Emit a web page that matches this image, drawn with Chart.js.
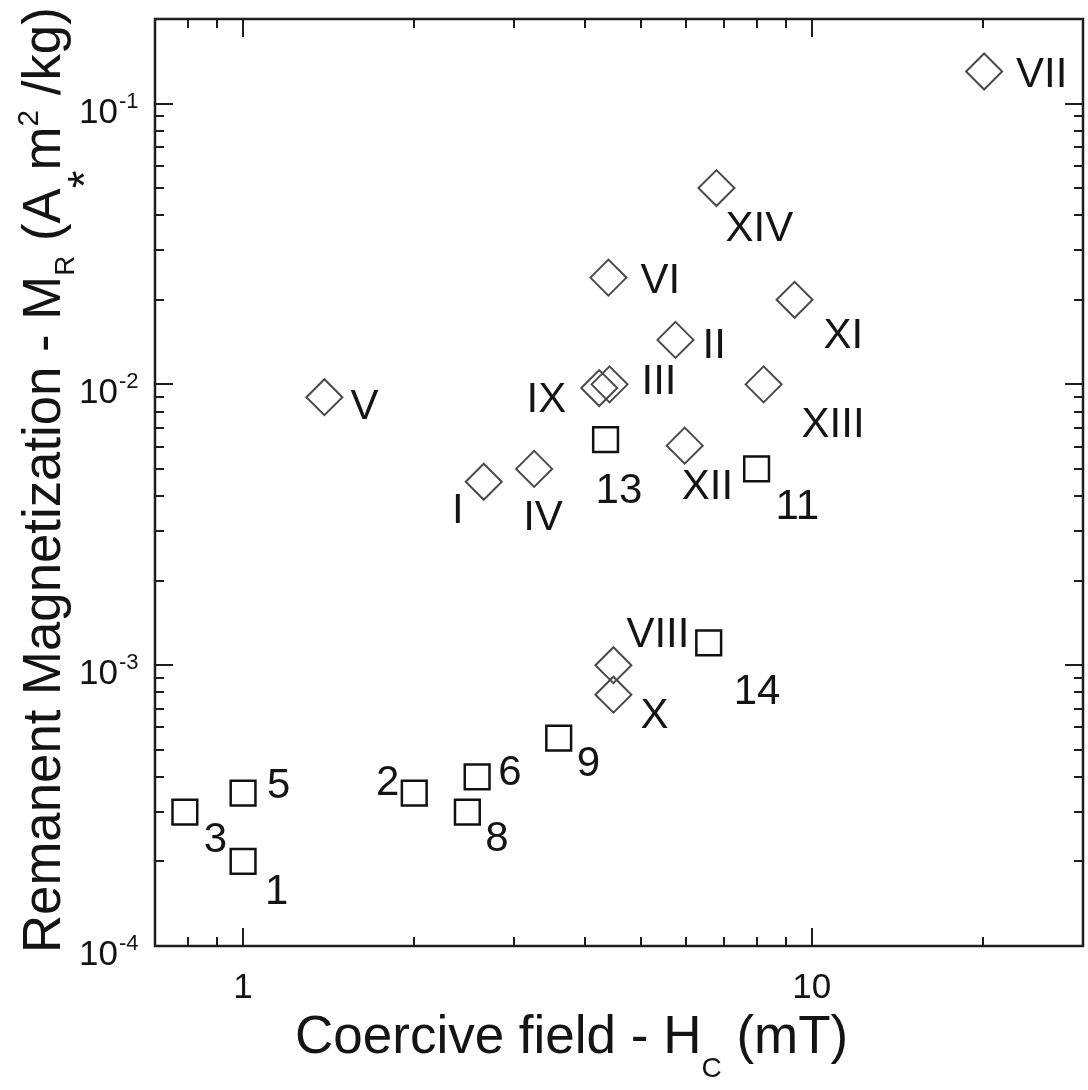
<!DOCTYPE html>
<html>
<head>
<meta charset="utf-8">
<script src="https://cdn.jsdelivr.net/npm/chart.js@4.4.0/dist/chart.umd.min.js"></script>
<style>
  html, body { margin: 0; padding: 0; background: #fff; }
</style>
</head>
<body>
<canvas id="myChart" width="1088" height="1090"></canvas>
<script>
// samples drawn as squares (arabic numbers)
const squareNames = ['1', '2', '3', '5', '6', '8', '9', '11', '13', '14'];
const squareHc = [1.0, 2.0, 0.79, 1.0, 2.58, 2.48, 3.59, 8.0, 4.34, 6.59];
const squareMr = [2.0e-4, 3.5e-4, 3.0e-4, 3.5e-4, 4.0e-4, 3.0e-4, 5.5e-4, 5.0e-3, 6.35e-3, 1.2e-3];

// samples drawn as diamonds (roman numbers)
const diamondNames = ['I', 'II', 'III', 'IV', 'V', 'VI', 'VII', 'VIII', 'IX', 'X', 'XI', 'XII', 'XIII', 'XIV'];
const diamondHc = [2.65, 5.76, 4.41, 3.25, 1.39, 4.39, 20.1, 4.48, 4.23, 4.48, 9.33, 5.98, 8.23, 6.80];
const diamondMr = [4.5e-3, 1.44e-2, 1.0e-2, 5.0e-3, 9.0e-3, 2.4e-2, 0.13, 1.0e-3, 9.7e-3, 7.85e-4, 2.0e-2, 6.05e-3, 1.0e-2, 5.0e-2];

// axis ticks
const xTickValues = [1, 10];
const xTickLabels = ['1', '10'];
const yTickValues = [1e-4, 1e-3, 1e-2, 1e-1];
const yTickExponents = ['-4', '-3', '-2', '-1'];

// where each name sits next to its marker: [dx, dy, align] in px
const squareLabelPos = [[22, 28, 'left'], [-15, -13, 'right'], [19, 25, 'left'], [24, -10, 'left'], [21, -7, 'left'],
    [18, 24, 'left'], [18, 23, 'left'], [19, 35, 'left'], [-10, 48, 'left'], [25, 46, 'left']];
const diamondLabelPos = [[-20, 26, 'right'], [27, 3, 'left'], [32, -5, 'left'], [-11, 46, 'left'], [26, 7, 'left'],
    [32, 0, 'left'], [32, 0, 'left'], [13, -33, 'left'], [-33, 9, 'right'], [27, 18, 'left'], [29, 33, 'left'],
    [-3, 38, 'left'], [38, 38, 'left'], [9, 38, 'left']];

const FONT = '"Liberation Sans", Arial, sans-serif';
const INK = '#141414';

function richWidth(ctx, parts) {
    let w = 0;
    parts.forEach(p => {
        ctx.font = p.size + 'px ' + FONT;
        w += ctx.measureText(p.t).width;
    });
    return w;
}

// draws text made of pieces with their own size and baseline shift,
// shrunk if needed so it is no longer than maxLen
function drawRich(ctx, parts, x, y, angle, maxLen) {
    ctx.save();
    const w = richWidth(ctx, parts);
    const k = maxLen && w > maxLen ? maxLen / w : 1;
    ctx.translate(x, y);
    ctx.rotate(angle);
    ctx.textAlign = 'left';
    ctx.textBaseline = 'alphabetic';
    let pos = 0;
    parts.forEach(p => {
        ctx.font = (p.size * k) + 'px ' + FONT;
        ctx.fillText(p.t, pos, p.dy * k);
        pos += ctx.measureText(p.t).width;
    });
    ctx.restore();
}

function logTicks(min, max) {
    const out = [];
    for (let e = Math.floor(Math.log10(min)); e <= Math.ceil(Math.log10(max)); e++) {
        for (let m = 1; m <= 9; m++) {
            const v = m * Math.pow(10, e);
            if (v >= min * 0.999 && v <= max * 1.001) out.push({ v: v, major: m === 1 });
        }
    }
    return out;
}

const frameAndLabels = {
    id: 'frameAndLabels',
    afterDraw: (chart) => {
        const { ctx, chartArea: { left, right, top, bottom }, scales: { x, y } } = chart;
        ctx.save();
        ctx.strokeStyle = '#1e1e1e';
        ctx.lineWidth = 2.5;
        ctx.strokeRect(left, top, right - left, bottom - top);

        ctx.lineWidth = 2;
        ctx.beginPath();
        logTicks(x.min, x.max).forEach(t => {
            const px = Math.round(x.getPixelForValue(t.v));
            const len = t.major ? 18 : 9;
            ctx.moveTo(px, bottom); ctx.lineTo(px, bottom - len);
            ctx.moveTo(px, top); ctx.lineTo(px, top + len);
        });
        logTicks(y.min, y.max).forEach(t => {
            const py = Math.round(y.getPixelForValue(t.v));
            const len = t.major ? 18 : 9;
            ctx.moveTo(left, py); ctx.lineTo(left + len, py);
            ctx.moveTo(right, py); ctx.lineTo(right - len, py);
        });
        ctx.stroke();

        // tick labels
        ctx.fillStyle = INK;
        ctx.font = '35px ' + FONT;
        ctx.textAlign = 'center';
        ctx.textBaseline = 'alphabetic';
        xTickValues.forEach((v, i) => {
            ctx.fillText(xTickLabels[i], x.getPixelForValue(v), bottom + 52);
        });
        yTickValues.forEach((v, i) => {
            const py = y.getPixelForValue(v);
            ctx.font = '35px ' + FONT;
            ctx.textAlign = 'right';
            ctx.fillText('10', 118, py + 19);
            ctx.font = '22px ' + FONT;
            ctx.textAlign = 'left';
            ctx.fillText(yTickExponents[i], 119, py + 4);
        });

        // axis titles
        drawRich(ctx, [
            { t: 'Coercive field - H', size: 53, dy: 0 },
            { t: 'C', size: 28, dy: 24 },
            { t: ' (mT)', size: 53, dy: 0 }
        ], 295, 1053, 0);
        drawRich(ctx, [
            { t: 'Remanent Magnetization - M', size: 53, dy: 0 },
            { t: 'R', size: 28, dy: 14 },
            { t: ' (A', size: 53, dy: 0 },
            { t: '*', size: 46, dy: 40 },
            { t: 'm', size: 53, dy: 0 },
            { t: '2', size: 30, dy: -22 },
            { t: ' /kg)', size: 53, dy: 0 }
        ], 60, 953, -Math.PI / 2, 946);

        // sample names
        ctx.font = '42px ' + FONT;
        ctx.textBaseline = 'alphabetic';
        const groups = [[1, squareNames, squareLabelPos], [0, diamondNames, diamondLabelPos]];
        groups.forEach(([dsIndex, names, offs]) => {
            const meta = chart.getDatasetMeta(dsIndex);
            meta.data.forEach((pt, i) => {
                ctx.textAlign = offs[i][2];
                ctx.fillText(names[i], pt.x + offs[i][0], pt.y + offs[i][1] + 15);
            });
        });
        ctx.restore();
    }
};

const data = {
    datasets: [{
        label: 'roman',
        data: diamondHc.map((v, i) => ({ x: v, y: diamondMr[i] })),
        pointStyle: 'rectRot',
        pointRadius: 18,
        borderColor: '#4a4a4a',
        borderWidth: 2,
        backgroundColor: 'rgba(0,0,0,0)'
    }, {
        label: 'arabic',
        data: squareHc.map((v, i) => ({ x: v, y: squareMr[i] })),
        pointStyle: 'rect',
        pointRadius: 17.5,
        borderColor: '#111111',
        borderWidth: 2.5,
        backgroundColor: 'rgba(0,0,0,0)'
    }]
};

const config = {
    type: 'scatter',
    data,
    options: {
        responsive: false,
        devicePixelRatio: 1,
        animation: false,
        events: [],
        layout: { autoPadding: false, padding: { left: 155, top: 19, right: 5, bottom: 144 } },
        plugins: { legend: { display: false }, tooltip: { enabled: false } },
        scales: {
            x: { type: 'logarithmic', min: 0.7, max: 30, display: false },
            y: { type: 'logarithmic', min: 1e-4, max: 0.2, display: false }
        }
    },
    plugins: [frameAndLabels]
};

const myChart = new Chart(document.getElementById('myChart'), config);
</script>
</body>
</html>
